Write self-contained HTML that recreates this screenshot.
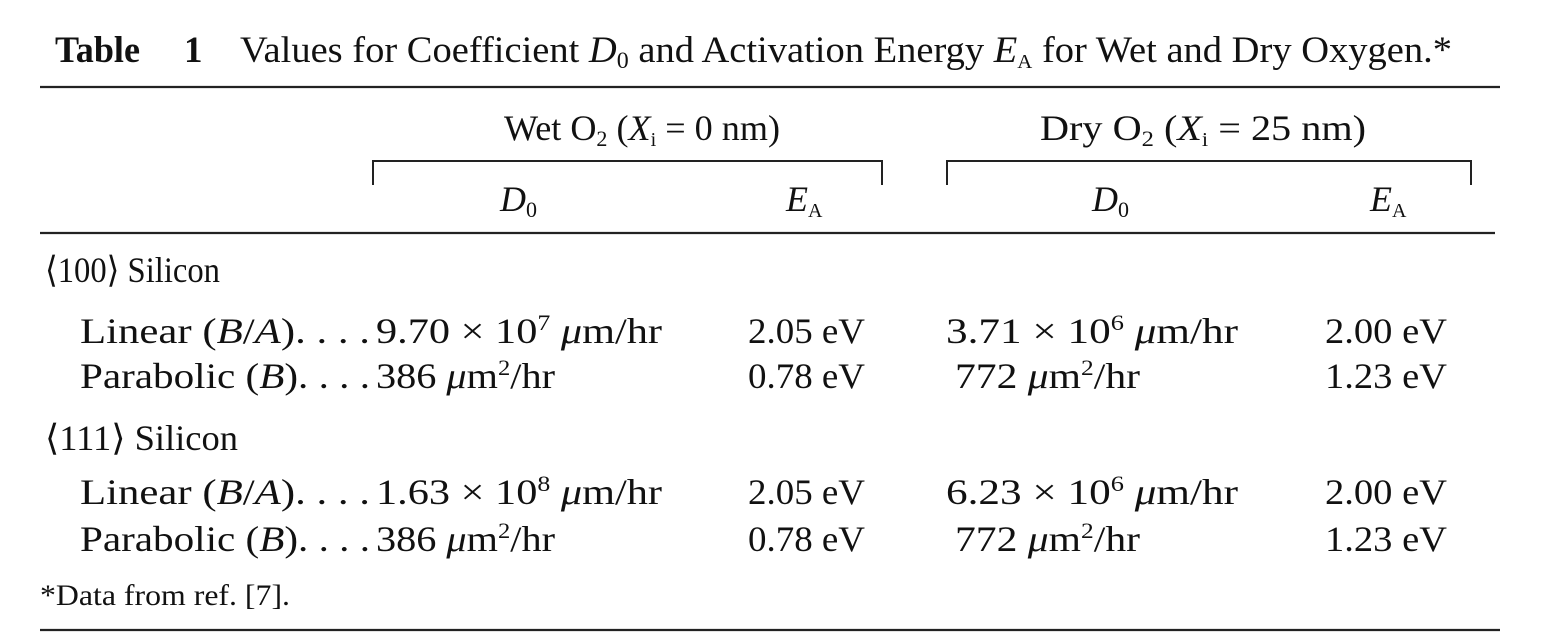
<!DOCTYPE html>
<html><head><meta charset="utf-8"><style>
html,body{margin:0;padding:0;background:#fff;}
svg{display:block;}
text{font-family:"Liberation Serif",serif;fill:#111;}
</style></head><body>
<svg width="1556" height="636" viewBox="0 0 1556 636" xmlns="http://www.w3.org/2000/svg">
<rect width="1556" height="636" fill="#fff"/>
<g font-size="37">
<text x="55" y="62" font-weight="bold" textLength="85" lengthAdjust="spacingAndGlyphs">Table</text>
<text x="184" y="62" font-weight="bold">1</text>
<text x="240" y="62" textLength="1212" lengthAdjust="spacingAndGlyphs">Values for Coefficient <tspan font-style="italic">D</tspan><tspan font-size="23" dy="6">0</tspan><tspan dy="-6"> and Activation Energy </tspan><tspan font-style="italic">E</tspan><tspan font-size="20" dy="6">A</tspan><tspan dy="-6"> for Wet and Dry Oxygen.*</tspan></text>
</g>
<g stroke="#222" fill="none">
<line x1="40" y1="87" x2="1500" y2="87" stroke-width="2.2"/>
<line x1="40" y1="233" x2="1495" y2="233" stroke-width="2.2"/>
<line x1="40" y1="630" x2="1500" y2="630" stroke-width="2.2"/>
<polyline points="373,185 373,161 882,161 882,185" stroke-width="2"/>
<polyline points="947,185 947,161 1471,161 1471,185" stroke-width="2"/>
</g>
<g font-size="36">
<text x="504" y="140" textLength="276" lengthAdjust="spacingAndGlyphs">Wet O<tspan font-size="22" dy="6">2</tspan><tspan dy="-6"> (</tspan><tspan font-style="italic">X</tspan><tspan font-size="20" dy="6">i</tspan><tspan dy="-6"> = 0 nm)</tspan></text>
<text x="1040" y="140" textLength="326" lengthAdjust="spacingAndGlyphs">Dry O<tspan font-size="22" dy="6">2</tspan><tspan dy="-6"> (</tspan><tspan font-style="italic">X</tspan><tspan font-size="20" dy="6">i</tspan><tspan dy="-6"> = 25 nm)</tspan></text>
<text x="500" y="211" font-style="italic">D<tspan font-style="normal" font-size="22" dy="6">0</tspan></text>
<text x="786" y="211" font-style="italic">E<tspan font-style="normal" font-size="20" dy="6">A</tspan></text>
<text x="1092" y="211" font-style="italic">D<tspan font-style="normal" font-size="22" dy="6">0</tspan></text>
<text x="1370" y="211" font-style="italic">E<tspan font-style="normal" font-size="20" dy="6">A</tspan></text>
</g>
<g font-size="36">
<text x="45" y="282" textLength="175" lengthAdjust="spacingAndGlyphs">⟨100⟩ Silicon</text>
<text x="80" y="343" textLength="290" lengthAdjust="spacingAndGlyphs">Linear (<tspan font-style="italic">B</tspan>/<tspan font-style="italic">A</tspan>). . . .</text>
<text x="376" y="343" textLength="286" lengthAdjust="spacingAndGlyphs">9.70 × 10<tspan font-size="22" dy="-13">7</tspan><tspan dy="13"> </tspan><tspan font-style="italic">μ</tspan>m/hr</text>
<text x="748" y="343" textLength="117" lengthAdjust="spacingAndGlyphs">2.05 eV</text>
<text x="946" y="343" textLength="292" lengthAdjust="spacingAndGlyphs">3.71 × 10<tspan font-size="22" dy="-13">6</tspan><tspan dy="13"> </tspan><tspan font-style="italic">μ</tspan>m/hr</text>
<text x="1325" y="343" textLength="122" lengthAdjust="spacingAndGlyphs">2.00 eV</text>
<text x="80" y="388" textLength="290" lengthAdjust="spacingAndGlyphs">Parabolic (<tspan font-style="italic">B</tspan>). . . .</text>
<text x="376" y="388" textLength="179" lengthAdjust="spacingAndGlyphs">386 <tspan font-style="italic">μ</tspan>m<tspan font-size="22" dy="-13">2</tspan><tspan dy="13">/hr</tspan></text>
<text x="748" y="388" textLength="117" lengthAdjust="spacingAndGlyphs">0.78 eV</text>
<text x="955" y="388" textLength="185" lengthAdjust="spacingAndGlyphs">772 <tspan font-style="italic">μ</tspan>m<tspan font-size="22" dy="-13">2</tspan><tspan dy="13">/hr</tspan></text>
<text x="1325" y="388" textLength="122" lengthAdjust="spacingAndGlyphs">1.23 eV</text>

<text x="45" y="450" textLength="193" lengthAdjust="spacingAndGlyphs">⟨111⟩ Silicon</text>
<text x="80" y="504" textLength="290" lengthAdjust="spacingAndGlyphs">Linear (<tspan font-style="italic">B</tspan>/<tspan font-style="italic">A</tspan>). . . .</text>
<text x="376" y="504" textLength="286" lengthAdjust="spacingAndGlyphs">1.63 × 10<tspan font-size="22" dy="-13">8</tspan><tspan dy="13"> </tspan><tspan font-style="italic">μ</tspan>m/hr</text>
<text x="748" y="504" textLength="117" lengthAdjust="spacingAndGlyphs">2.05 eV</text>
<text x="946" y="504" textLength="292" lengthAdjust="spacingAndGlyphs">6.23 × 10<tspan font-size="22" dy="-13">6</tspan><tspan dy="13"> </tspan><tspan font-style="italic">μ</tspan>m/hr</text>
<text x="1325" y="504" textLength="122" lengthAdjust="spacingAndGlyphs">2.00 eV</text>
<text x="80" y="551" textLength="290" lengthAdjust="spacingAndGlyphs">Parabolic (<tspan font-style="italic">B</tspan>). . . .</text>
<text x="376" y="551" textLength="179" lengthAdjust="spacingAndGlyphs">386 <tspan font-style="italic">μ</tspan>m<tspan font-size="22" dy="-13">2</tspan><tspan dy="13">/hr</tspan></text>
<text x="748" y="551" textLength="117" lengthAdjust="spacingAndGlyphs">0.78 eV</text>
<text x="955" y="551" textLength="185" lengthAdjust="spacingAndGlyphs">772 <tspan font-style="italic">μ</tspan>m<tspan font-size="22" dy="-13">2</tspan><tspan dy="13">/hr</tspan></text>
<text x="1325" y="551" textLength="122" lengthAdjust="spacingAndGlyphs">1.23 eV</text>
</g>
<text x="40" y="605" font-size="30" textLength="250" lengthAdjust="spacingAndGlyphs">*Data from ref. [7].</text>
</svg>
</body></html>
